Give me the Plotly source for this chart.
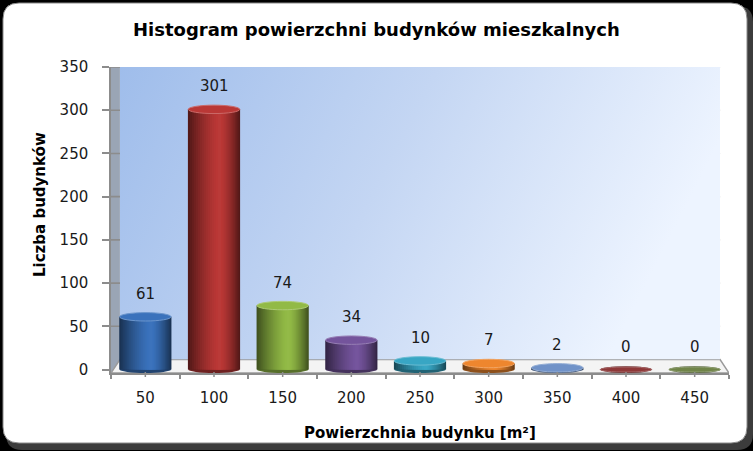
import base64
import plotly.graph_objects as go

# ---------------- data ----------------
categories = ["50", "100", "150", "200", "250", "300", "350", "400", "450"]
counts = [61, 301, 74, 34, 10, 7, 2, 0, 0]
y_ticks = [0, 50, 100, 150, 200, 250, 300, 350]

title_text = "Histogram powierzchni budynków mieszkalnych"
x_title = "Powierzchnia budynku [m²]"
y_title = "Liczba budynków"

# ---------------- styles ----------------
base_colors = [(58, 114, 188), (186, 56, 54), (146, 186, 70), (116, 84, 156),
               (56, 166, 196), (238, 134, 46), (112, 146, 200), (142, 56, 56),
               (112, 132, 72)]

W, H = 753, 451
ML, MR, MT, MB = 111, 24, 67, 78
PW, PH = W - ML - MR, H - MT - MB
Y_MIN, Y_MAX = -4, 350
PPU = PH / (Y_MAX - Y_MIN)          # pixels per value unit
FLOOR_BACK = 10 / PPU
WALL_X0, WALL_X1 = -0.37, len(categories) - 1 + 0.37
BAR_W = 0.76


def px_x(px):
    return (px - ML) / PW


def px_y(py):
    return 1 - (py - MT) / PH


def shade(c, f):
    if f <= 1:
        r, g, b = (int(v * f) for v in c)
    else:
        t = f - 1
        r, g, b = (int(v + (255 - v) * t) for v in c)
    return f"rgb({r},{g},{b})"


fig = go.Figure()

# cylinder bodies: nested overlayed bars give a smooth horizontal shading
U0 = 0.22
NL = 16
for k in range(NL):
    r = 1 - k / NL
    ctr = U0 * (1 - r)
    f = 0.45 + 0.57 * (1 - r ** 1.5)
    w = BAR_W * r
    fig.add_trace(go.Bar(
        x=categories, y=counts, width=w, offset=ctr * BAR_W / 2 - w / 2,
        marker=dict(color=[shade(c, f) for c in base_colors], line_width=0),
        hoverinfo="skip", showlegend=False))

shapes = []


def rrect(x0, y0, x1, y1, r):
    X0, X1 = px_x(x0), px_x(x1)
    Y0, Y1 = px_y(y0), px_y(y1)
    rx, ry = r / PW, r / PH
    return (f"M{X0+rx},{Y0} L{X1-rx},{Y0} Q{X1},{Y0} {X1},{Y0-ry} "
            f"L{X1},{Y1+ry} Q{X1},{Y1} {X1-rx},{Y1} L{X0+rx},{Y1} "
            f"Q{X0},{Y1} {X0},{Y1+ry} L{X0},{Y0-ry} Q{X0},{Y0} {X0+rx},{Y0} Z")


# chart frame: shadow + white rounded rect
shapes.append(dict(type="path", xref="paper", yref="paper", layer="below",
                   path=rrect(6, 6, 753, 450, 16), fillcolor="#3c3c3c", line_width=0))
shapes.append(dict(type="path", xref="paper", yref="paper", layer="below",
                   path=rrect(3, 3, 747, 443, 16), fillcolor="white",
                   line=dict(color="#8a8a8a", width=1)))

n = len(categories)
# side wall
shapes.append(dict(type="path", xref="x", yref="y", layer="below",
                   path=f"M-0.5,{Y_MAX} L{WALL_X0},{Y_MAX} L{WALL_X0},{FLOOR_BACK} L-0.5,{Y_MIN} Z",
                   fillcolor="#9aa5b5", line_width=0))
# floor
shapes.append(dict(type="path", xref="x", yref="y", layer="below",
                   path=(f"M-0.5,{Y_MIN} L{n-0.5},{Y_MIN} L{WALL_X1},{FLOOR_BACK} "
                         f"L{WALL_X0},{FLOOR_BACK} Z"),
                   fillcolor="#f4f4f4", line=dict(color="#9a9a9a", width=1.5)))
# wall gridlines
for v in y_ticks[1:]:
    shapes.append(dict(type="line", xref="x", yref="y", layer="below",
                       x0=-0.5, x1=WALL_X1, y0=v, y1=v,
                       line=dict(color="#8c8c8c", width=1.6)))

# cylinder bottoms and tops
semi = 4.2 / PPU
for i, (v, c) in enumerate(zip(counts, base_colors)):
    x0, x1 = i - BAR_W / 2 + 0.005, i + BAR_W / 2 - 0.005
    shapes.append(dict(type="circle", xref="x", yref="y", layer="below",
                       x0=x0, x1=x1, y0=-semi * 0.8, y1=semi * 0.8,
                       fillcolor=shade(c, 0.6), line_width=0))
    top_semi = semi if v > 0 else semi * 0.6
    shapes.append(dict(type="circle", xref="x", yref="y", layer="above",
                       x0=x0, x1=x1, y0=v - top_semi, y1=v + top_semi,
                       fillcolor=shade(c, 1.0),
                       line=dict(color=shade(c, 1.25), width=1)))
# x-axis centre ticks
for i in range(n):
    shapes.append(dict(type="line", xref="x", yref="paper", x0=i, x1=i,
                       y0=px_y(372), y1=px_y(377), line=dict(color="#8c8c8c", width=1.5)))

annotations = []
for i, v in enumerate(counts):
    annotations.append(dict(x=i, y=v, xref="x", yref="y", text=str(v),
                            showarrow=False, yshift=23, yanchor="middle",
                            font=dict(family="DejaVu Sans", size=15, color="#1a1a1a")))
annotations.append(dict(x=px_x(376), y=px_y(30), xref="paper", yref="paper",
                        text=title_text, showarrow=False, xanchor="center", yanchor="middle",
                        font=dict(family="DejaVu Sans", size=18, color="black", weight="bold")))
annotations.append(dict(x=px_x(420), y=px_y(433), xref="paper", yref="paper",
                        text=x_title, showarrow=False, xanchor="center", yanchor="middle",
                        font=dict(family="DejaVu Sans", size=15, color="black", weight="bold")))
annotations.append(dict(x=px_x(40), y=px_y(205), xref="paper", yref="paper",
                        text=y_title, showarrow=False, textangle=-90,
                        xanchor="center", yanchor="middle",
                        font=dict(family="DejaVu Sans", size=15, color="black", weight="bold")))

svg = ('<svg xmlns="http://www.w3.org/2000/svg" width="200" height="200" '
       'preserveAspectRatio="none"><defs><linearGradient id="g" x1="0" y1="0" x2="1" y2="0.25">'
       '<stop offset="0" stop-color="#9fbdeb"/><stop offset="0.5" stop-color="#c4d6f3"/>'
       '<stop offset="1" stop-color="#edf4ff"/>'
       '</linearGradient></defs><rect width="200" height="200" fill="url(#g)"/></svg>')
src = "data:image/svg+xml;base64," + base64.b64encode(svg.encode()).decode()

fig.update_layout(
    width=W, height=H, margin=dict(l=ML, r=MR, t=MT, b=MB),
    paper_bgcolor="black", plot_bgcolor="rgba(0,0,0,0)",
    barmode="overlay", showlegend=False,
    shapes=shapes, annotations=annotations,
    images=[dict(source=src, xref="x", yref="y", x=WALL_X0, y=Y_MAX,
                 sizex=WALL_X1 - WALL_X0, sizey=Y_MAX - FLOOR_BACK,
                 sizing="stretch", layer="below", xanchor="left", yanchor="top")],
    xaxis=dict(type="category", range=[-0.5, n - 0.5], showgrid=False,
               showline=True, linecolor="#8c8c8c", linewidth=1.5,
               ticks="outside", tickson="boundaries", ticklen=4, tickcolor="#8c8c8c",
               tickwidth=1.5, ticklabelstandoff=10,
               tickfont=dict(family="DejaVu Sans", size=15, color="#1a1a1a")),
    yaxis=dict(range=[Y_MIN, Y_MAX], tickvals=y_ticks, showgrid=False, zeroline=False,
               showline=True, linecolor="#8c8c8c", linewidth=1.5,
               ticks="outside", ticklen=7, tickcolor="#8c8c8c", tickwidth=1.5,
               ticklabelstandoff=11,
               tickfont=dict(family="DejaVu Sans", size=15, color="#1a1a1a")),
)

fig.write_html("out.html", config={"displayModeBar": False},
               post_script="document.body.style.margin='0';")
